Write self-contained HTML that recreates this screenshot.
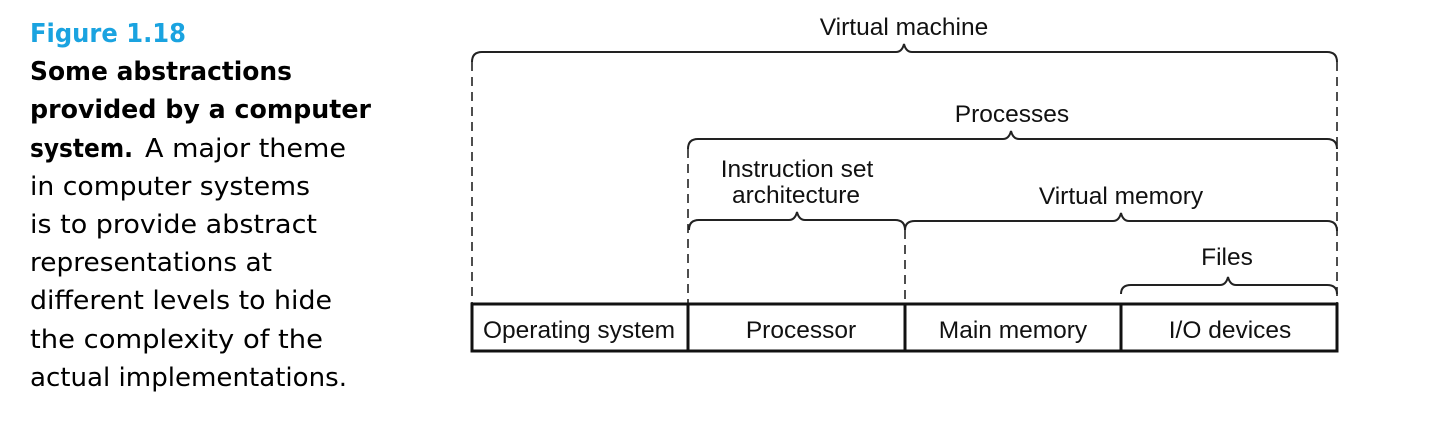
<!DOCTYPE html>
<html><head><meta charset="utf-8"><style>
html,body{margin:0;padding:0;background:#fff;}
svg{display:block;}
</style></head><body>
<svg width="1438" height="428" viewBox="0 0 1438 428" xmlns="http://www.w3.org/2000/svg">
<g font-family="'DejaVu Sans','Liberation Sans',sans-serif" font-size="26">
<text x="30" y="42" fill="#1aa3e0" font-weight="bold" textLength="156" lengthAdjust="spacingAndGlyphs">Figure 1.18</text>
<text x="30" y="80" font-weight="bold" textLength="262" lengthAdjust="spacingAndGlyphs">Some abstractions</text>
<text x="30" y="118" font-weight="bold" textLength="341" lengthAdjust="spacingAndGlyphs">provided by a computer</text>
<text x="30" y="157" font-weight="bold" textLength="103" lengthAdjust="spacingAndGlyphs">system.</text>
<text x="145" y="157" textLength="201" lengthAdjust="spacingAndGlyphs">A major theme</text>
<text x="30" y="195" textLength="280" lengthAdjust="spacingAndGlyphs">in computer systems</text>
<text x="30" y="233" textLength="287" lengthAdjust="spacingAndGlyphs">is to provide abstract</text>
<text x="30" y="271" textLength="242" lengthAdjust="spacingAndGlyphs">representations at</text>
<text x="30" y="309" textLength="302" lengthAdjust="spacingAndGlyphs">different levels to hide</text>
<text x="30" y="348" textLength="293" lengthAdjust="spacingAndGlyphs">the complexity of the</text>
<text x="30" y="386" textLength="317" lengthAdjust="spacingAndGlyphs">actual implementations.</text>
</g>
<g fill="none" stroke="#222" stroke-width="2">
<path d="M472,62 Q472,52 482,52 L896,52 Q902,52 904,44 Q906,52 912,52 L1327,52 Q1337,52 1337,62"/>
<path d="M688,149 Q688,139 698,139 L1003,139 Q1009,139 1011,131 Q1013,139 1019,139 L1327,139 Q1337,139 1337,149"/>
<path d="M689,230 Q689,220 699,220 L789,220 Q795,220 797,212 Q799,220 805,220 L895,220 Q905,220 905,230"/>
<path d="M905,230 Q905,221 915,221 L1113,221 Q1119,221 1121,213 Q1123,221 1129,221 L1327,221 Q1337,221 1337,231"/>
<path d="M1121,294 Q1121,285 1131,285 L1220,285 Q1226,285 1228,277 Q1230,285 1236,285 L1327,285 Q1337,285 1337,294"/>
</g>
<g stroke="#222" stroke-width="1.6" stroke-dasharray="9,6">
<line x1="472" y1="62" x2="472" y2="303"/>
<line x1="1337" y1="62" x2="1337" y2="303"/>
<line x1="688" y1="149" x2="688" y2="303"/>
<line x1="905" y1="230" x2="905" y2="303"/>
</g>
<rect x="472" y="304" width="865" height="47" fill="none" stroke="#111" stroke-width="3"/>
<g stroke="#111" stroke-width="3">
<line x1="688" y1="304" x2="688" y2="351"/>
<line x1="905" y1="304" x2="905" y2="351"/>
<line x1="1121" y1="304" x2="1121" y2="351"/>
</g>
<g font-family="'Liberation Sans',sans-serif" font-size="24.5" fill="#111" text-anchor="middle">
<text x="904" y="35">Virtual machine</text>
<text x="1012" y="122">Processes</text>
<text x="797" y="177">Instruction set</text>
<text x="796" y="203">architecture</text>
<text x="1121" y="204">Virtual memory</text>
<text x="1227" y="265">Files</text>
<text x="579" y="338">Operating system</text>
<text x="801" y="338">Processor</text>
<text x="1013" y="338">Main memory</text>
<text x="1230" y="338">I/O devices</text>
</g>
</svg>
</body></html>
